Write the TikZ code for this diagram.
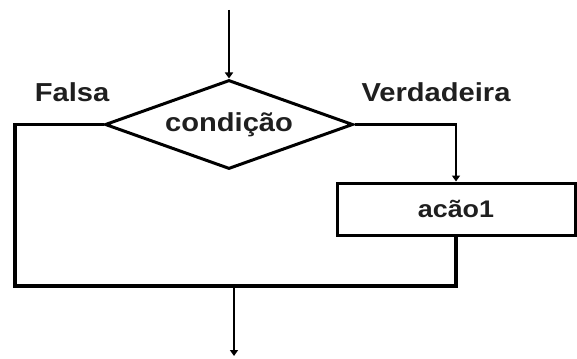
\documentclass[tikz,border=0pt]{standalone}
\usepackage{fontspec}
\setmainfont{Liberation Sans}[FakeStretch=1.12]
\usepackage{tikz}
\usetikzlibrary{shapes.geometric, arrows.meta}

\begin{document}
\begin{tikzpicture}[x=1pt, y=-1pt, line width=3pt,
    label text/.style={font=\fontsize{26}{30}\selectfont\bfseries, text=black!88},
    decision/.style={draw, diamond, aspect=2.8, inner sep=0pt, minimum width=248pt, minimum height=89pt},
    action/.style={draw, rectangle, inner sep=0pt, minimum width=238pt, minimum height=52pt},
    flow/.style={line width=3.5pt},
    arr/.style={line width=2.5pt, -{Triangle[length=6pt, width=8pt]}}]
    \useasboundingbox (0, 0) rectangle (577, 358);

    % draw decision and action
    \node[decision, label text] (cond) at (229, 124.5) {condição};
    \node[action, label text, font=\fontsize{24}{28}\selectfont\bfseries] (acao) at (456, 209) {acão1};

    % draw branch labels
    \node[label text] (falsa) at (72, 92) {Falsa};
    \node[label text] (verd) at (436, 92) {Verdadeira};

    % free ends
    \coordinate (topin) at (229, 10);
    \coordinate (left) at (15, 286);
    \coordinate (join) at (234, 286);
    \coordinate (outend) at (234, 356);

    % draw connectors
    \draw[arr] (topin) -- (cond.north);
    \draw[arr] (cond.east) -| (acao.north);
    \draw[flow] (cond.west) -| (left) -| (acao.south);
    \draw[arr] (join) -- (outend);
\end{tikzpicture}
\end{document}
